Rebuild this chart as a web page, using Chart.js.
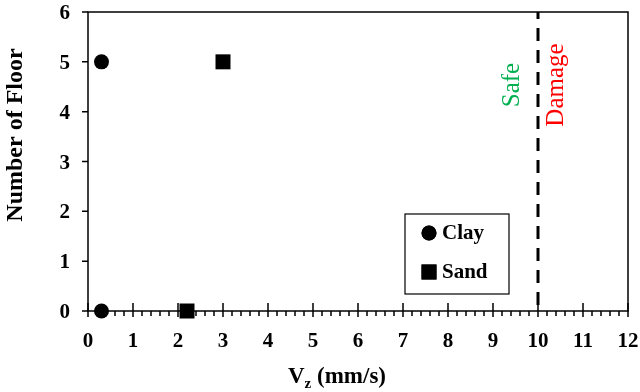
<!DOCTYPE html>
<html>
<head>
<meta charset="utf-8">
<script src="https://cdn.jsdelivr.net/npm/chart.js@4/dist/chart.umd.min.js"></script>
<style>
  html, body { margin: 0; padding: 0; background: #fff; }
  #wrap { width: 640px; height: 392px; position: relative; }
</style>
</head>
<body>
<div id="wrap"><canvas id="floorChart"></canvas></div>
<script>
// values
const clayX = [0.3, 0.3];
const clayY = [5, 0];
const sandX = [3.0, 2.2];
const sandY = [5, 0];
const xRange = [0, 12];
const yRange = [0, 6];
const limitV = 10;
const seriesNames = ["Clay", "Sand"];
const zoneNames = ["Safe", "Damage"];
const yTitle = "Number of Floor";

const serif = "'Liberation Serif', 'Times New Roman', serif";

const toPoints = (xs, ys) => xs.map((x, i) => ({ x: x, y: ys[i] }));

// frame, ticks, tick labels, limit line, titles, legend
const decor = {
  id: "decor",
  beforeDatasetsDraw(chart) {
    const ctx = chart.ctx;
    const a = chart.chartArea;
    const xs = chart.scales.x;
    const ys = chart.scales.y;
    ctx.save();
    ctx.strokeStyle = "#000";
    ctx.fillStyle = "#000";
    ctx.lineWidth = 1.5;
    ctx.strokeRect(a.left, a.top, a.right - a.left, a.bottom - a.top);

    ctx.beginPath();
    // y major ticks, outside only
    ys.ticks.forEach((t) => {
      const py = ys.getPixelForValue(t.value);
      ctx.moveTo(a.left - 6, py);
      ctx.lineTo(a.left, py);
    });
    // x major ticks cross the axis, minor ones below
    xs.ticks.forEach((t) => {
      const px = xs.getPixelForValue(t.value);
      ctx.moveTo(px, a.bottom - 8);
      ctx.lineTo(px, a.bottom + 6);
      if (t.value < xRange[1]) {
        for (let m = 1; m < 5; m++) {
          const mx = xs.getPixelForValue(t.value + m * 0.2);
          ctx.moveTo(mx, a.bottom);
          ctx.lineTo(mx, a.bottom + 5);
        }
      }
    });
    ctx.stroke();

    // tick labels
    ctx.font = "bold 21px " + serif;
    ctx.textBaseline = "alphabetic";
    ctx.textAlign = "right";
    ys.ticks.forEach((t) => {
      ctx.fillText(String(t.value), a.left - 18, ys.getPixelForValue(t.value) + 7);
    });
    ctx.textAlign = "center";
    xs.ticks.forEach((t) => {
      ctx.fillText(String(t.value), xs.getPixelForValue(t.value), a.bottom + 36);
    });

    // limit line
    const lx = xs.getPixelForValue(limitV);
    ctx.lineWidth = 3;
    ctx.setLineDash([13, 9]);
    ctx.lineDashOffset = 6;
    ctx.beginPath();
    ctx.moveTo(lx, a.top);
    ctx.lineTo(lx, a.bottom);
    ctx.stroke();
    ctx.setLineDash([]);

    // Safe / Damage
    ctx.font = "25px " + serif;
    ctx.textAlign = "center";
    ctx.save();
    ctx.translate(lx - 19, 85);
    ctx.rotate(-Math.PI / 2);
    ctx.fillStyle = "#00b050";
    ctx.fillText(zoneNames[0], 0, 0);
    ctx.restore();
    ctx.save();
    ctx.translate(lx + 25, 85);
    ctx.rotate(-Math.PI / 2);
    ctx.fillStyle = "#ff0000";
    ctx.fillText(zoneNames[1], 0, 0);
    ctx.restore();

    // y title
    ctx.save();
    ctx.translate(16, 135);
    ctx.rotate(-Math.PI / 2);
    ctx.textBaseline = "middle";
    ctx.font = "bold 24px " + serif;
    ctx.fillText(yTitle, 0, 0);
    ctx.restore();

    // x title with subscript
    ctx.textAlign = "left";
    let tx = 288;
    const base = 383;
    ctx.font = "bold 23px " + serif;
    ctx.fillText("V", tx, base);
    tx += ctx.measureText("V").width;
    ctx.font = "bold 15px " + serif;
    ctx.fillText("z", tx, base + 5);
    tx += ctx.measureText("z").width;
    ctx.font = "bold 23px " + serif;
    ctx.fillText(" (mm/s)", tx, base);

    // legend box
    ctx.lineWidth = 1.2;
    ctx.strokeRect(405, 214, 104, 80);
    ctx.font = "bold 21px " + serif;
    ctx.textBaseline = "middle";
    chart.data.datasets.forEach((ds, i) => {
      const cy = 233 + i * 39;
      Chart.helpers.drawPoint(ctx, {
        pointStyle: ds.pointStyle,
        radius: ds.pointRadius,
        rotation: 0,
        borderWidth: 0
      }, 429, cy);
      ctx.fill();
      ctx.fillText(ds.label, 442, cy + 1);
    });
    ctx.restore();
  }
};

new Chart(document.getElementById("floorChart"), {
  type: "scatter",
  data: {
    datasets: [
      {
        label: seriesNames[0],
        data: toPoints(clayX, clayY),
        pointStyle: "circle",
        pointRadius: 7.5,
        backgroundColor: "#000",
        borderColor: "#000",
        borderWidth: 0,
        clip: false
      },
      {
        label: seriesNames[1],
        data: toPoints(sandX, sandY),
        pointStyle: "rect",
        pointRadius: 10.6,
        backgroundColor: "#000",
        borderColor: "#000",
        borderWidth: 0,
        clip: false
      }
    ]
  },
  options: {
    responsive: true,
    maintainAspectRatio: false,
    animation: false,
    layout: { padding: { top: 12, right: 12, left: 0, bottom: 0 } },
    plugins: {
      legend: { display: false },
      tooltip: { enabled: false }
    },
    scales: {
      x: {
        type: "linear",
        min: xRange[0],
        max: xRange[1],
        grid: { display: false },
        border: { display: false },
        ticks: { stepSize: 1, display: false },
        afterFit: (s) => { s.height = 81; }
      },
      y: {
        type: "linear",
        min: yRange[0],
        max: yRange[1],
        grid: { display: false },
        border: { display: false },
        ticks: { stepSize: 1, display: false },
        afterFit: (s) => { s.width = 88; }
      }
    }
  },
  plugins: [decor]
});
</script>
</body>
</html>
